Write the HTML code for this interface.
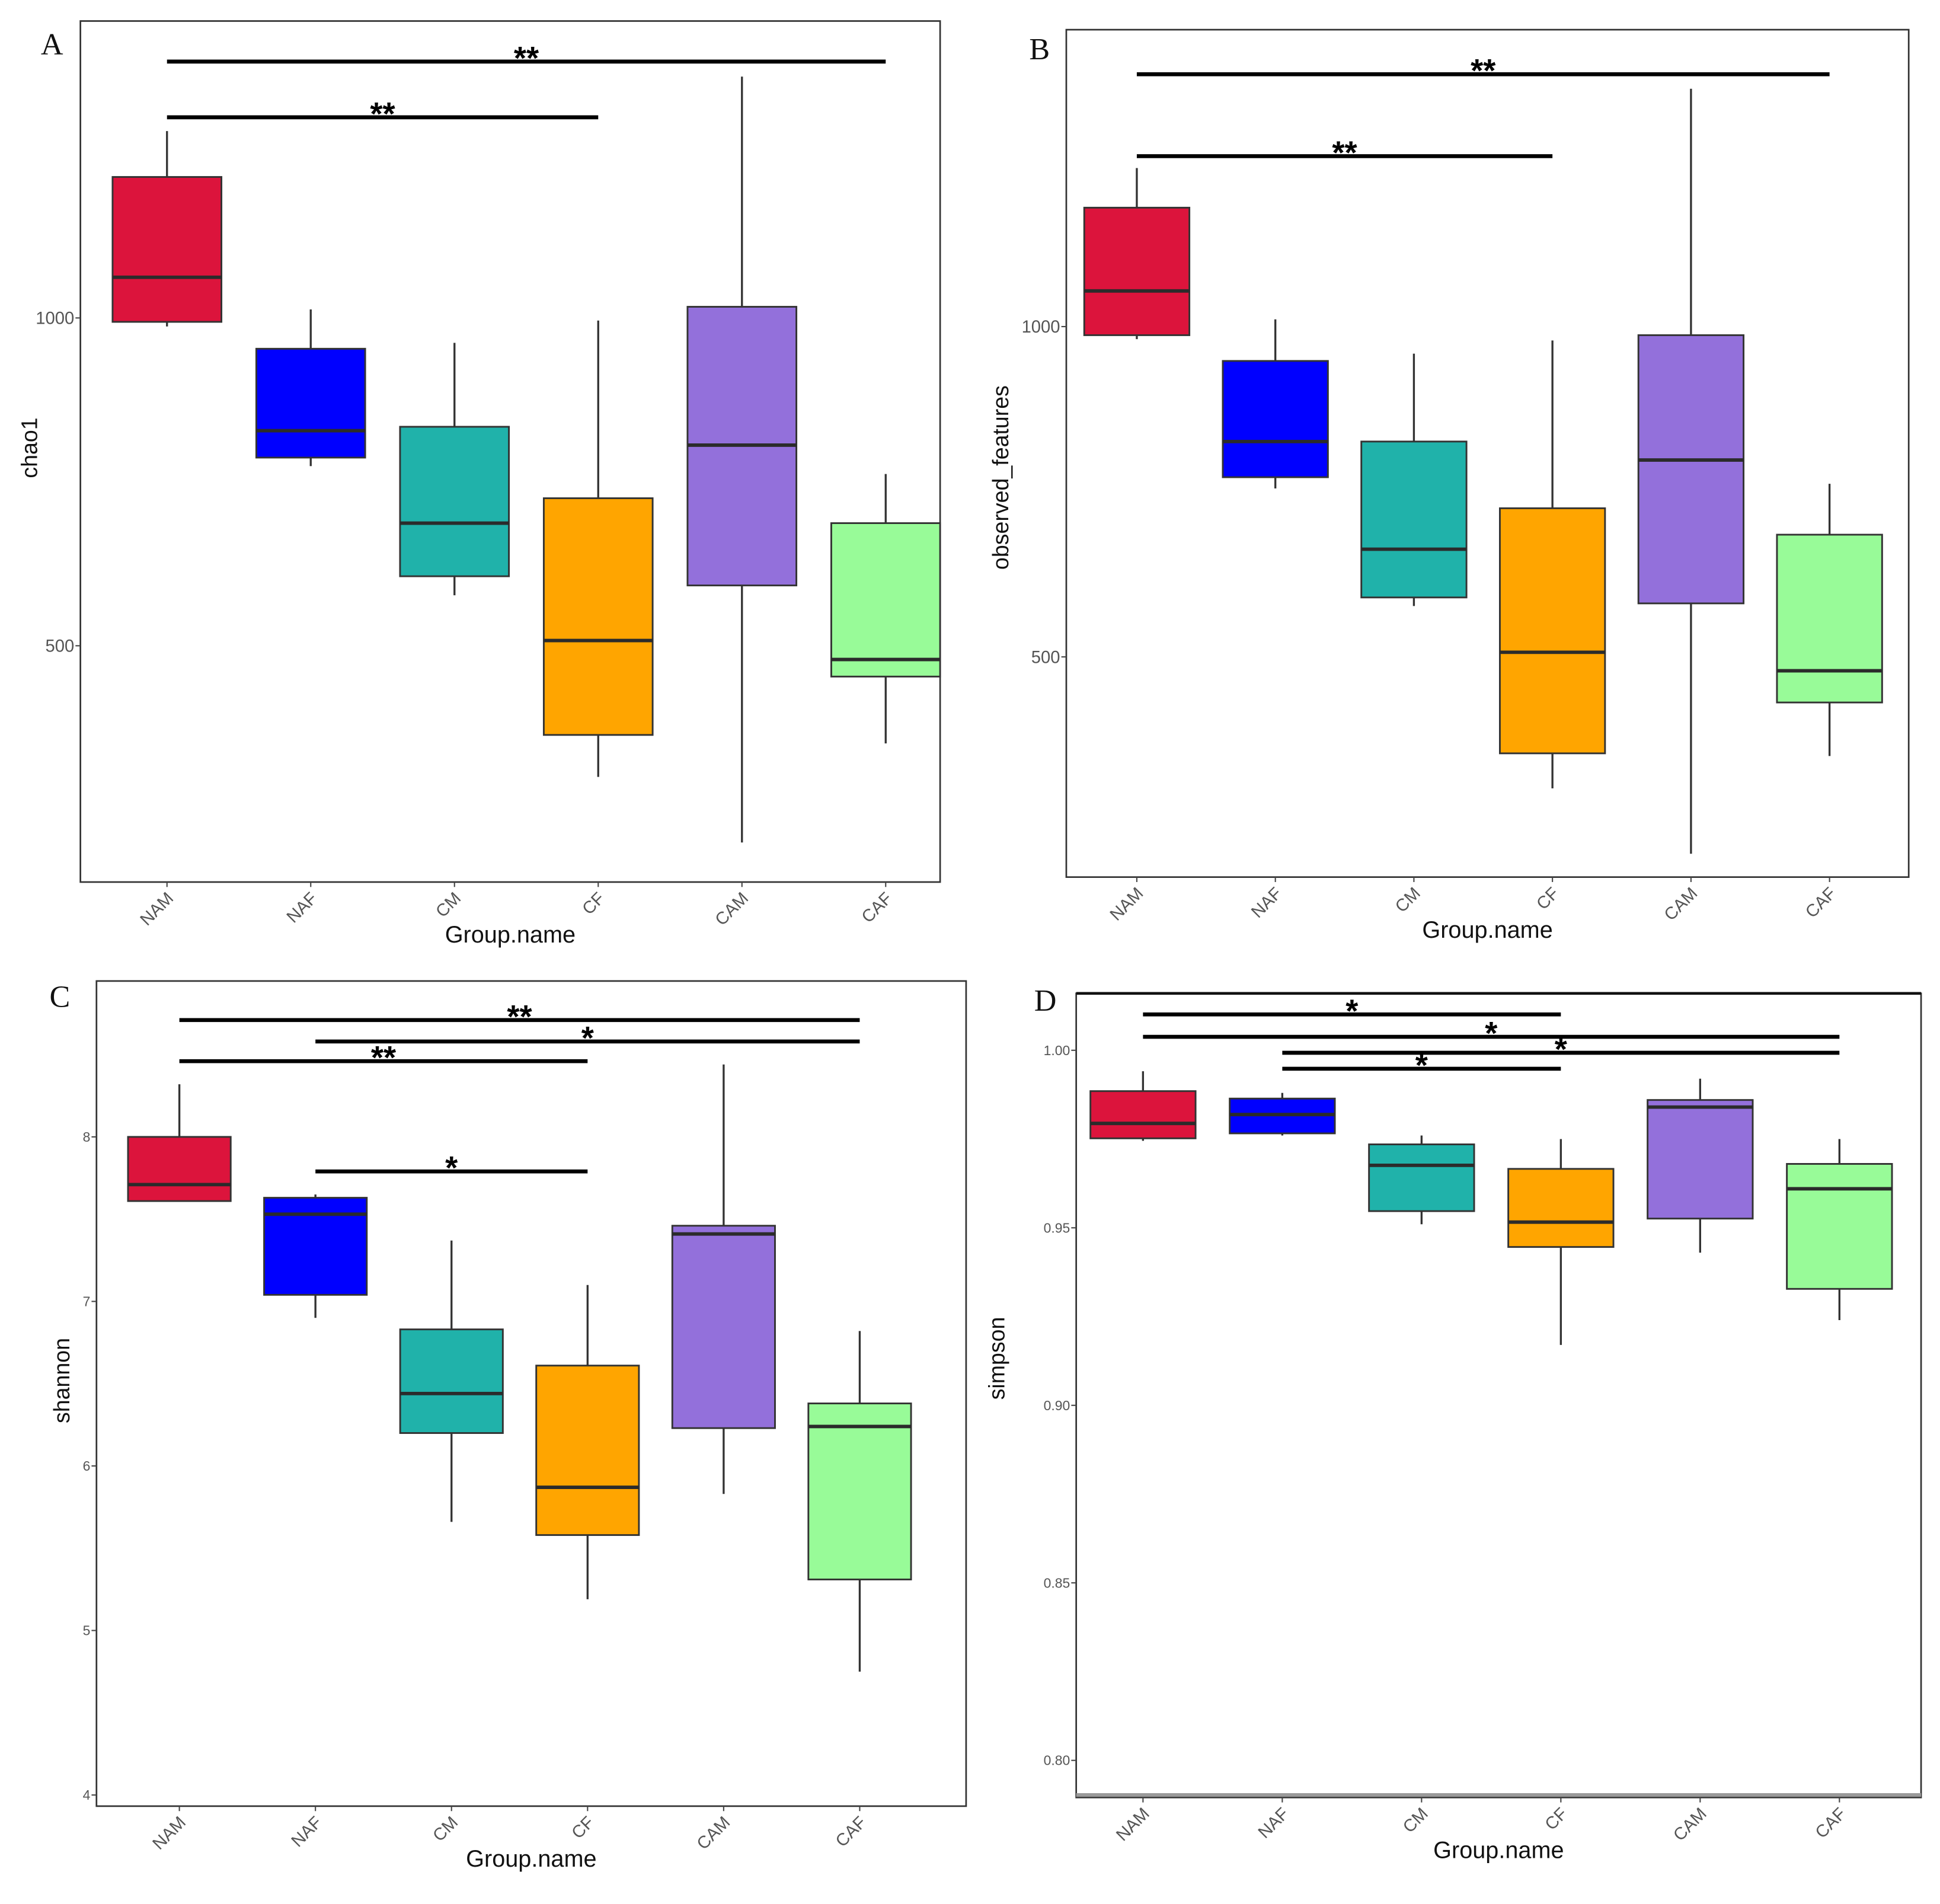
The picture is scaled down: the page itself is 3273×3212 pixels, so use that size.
<!DOCTYPE html>
<html><head><meta charset="utf-8">
<style>
html,body{margin:0;padding:0;background:#fff;}
svg{display:block;}
</style></head>
<body>
<svg id="fig" xmlns="http://www.w3.org/2000/svg" width="3273" height="3212" viewBox="0 0 1568.3 1539.1" preserveAspectRatio="none" font-family="'Liberation Sans', sans-serif"></svg>
<script>
const categories = ['NAM','NAF','CM','CF','CAM','CAF'];
const boxColors = ['#DC143C','#0000FF','#20B2AA','#FFA500','#9370DB','#98FB98'];

// Panel A: chao1
const chaoMin = [987, 774, 577, 300, 200, 351];
const chaoQ1  = [994, 787, 606, 364, 592, 453];
const chaoMed = [1062, 828, 687, 508, 806, 479];
const chaoQ3  = [1215, 953, 834, 725, 1017, 687];
const chaoMax = [1285, 1013, 962, 996, 1368, 762];
const chaoTicks = [500, 1000];
const chaoTickLabels = ['500', '1000'];
const chaoSigFrom = [0, 0];
const chaoSigTo = [5, 3];
const chaoSigLabel = ['**', '**'];
const chaoSigY = [1391, 1306];

// Panel B: observed_features
const obsMin = [981, 755, 577, 301, 202, 350];
const obsQ1  = [987, 772, 590, 354, 581, 431];
const obsMed = [1054, 826, 663, 507, 798, 479];
const obsQ3  = [1180, 948, 826, 725, 987, 685];
const obsMax = [1240, 1011, 959, 979, 1360, 762];
const obsTicks = [500, 1000];
const obsTickLabels = ['500', '1000'];
const obsSigFrom = [0, 0];
const obsSigTo = [5, 3];
const obsSigLabel = ['**', '**'];
const obsSigY = [1382, 1258];

// Panel C: shannon
const shanMin = [7.61, 6.90, 5.66, 5.19, 5.83, 4.75];
const shanQ1  = [7.61, 7.04, 6.20, 5.58, 6.23, 5.31];
const shanMed = [7.71, 7.53, 6.44, 5.87, 7.41, 6.24];
const shanQ3  = [8.00, 7.63, 6.83, 6.61, 7.46, 6.38];
const shanMax = [8.32, 7.65, 7.37, 7.10, 8.44, 6.82];
const shanTicks = [4, 5, 6, 7, 8];
const shanTickLabels = ['4', '5', '6', '7', '8'];
const shanSigFrom = [0, 1, 0, 1];
const shanSigTo = [5, 5, 3, 3];
const shanSigLabel = ['**', '*', '**', '*'];
const shanSigY = [8.71, 8.58, 8.46, 7.79];

// Panel D: simpson
const simpMin = [0.9745, 0.976, 0.951, 0.917, 0.943, 0.924];
const simpQ1  = [0.9752, 0.9766, 0.9547, 0.9446, 0.9526, 0.9328];
const simpMed = [0.9794, 0.9819, 0.9676, 0.9516, 0.984, 0.961];
const simpQ3  = [0.9885, 0.9864, 0.9735, 0.9666, 0.986, 0.968];
const simpMax = [0.9941, 0.988, 0.976, 0.975, 0.992, 0.975];
const simpTicks = [0.80, 0.85, 0.90, 0.95, 1.00];
const simpTickLabels = ['0.80', '0.85', '0.90', '0.95', '1.00'];
const simpSigFrom = [0, 0, 1, 1];
const simpSigTo = [3, 5, 5, 3];
const simpSigLabel = ['*', '*', '*', '*'];
const simpSigY = [1.0101, 1.0038, 0.9993, 0.9948];

const NS = 'http://www.w3.org/2000/svg';
const svg = document.getElementById('fig');
function mk(tag, attrs, parent) {
  const e = document.createElementNS(NS, tag);
  for (const k in attrs) e.setAttribute(k, attrs[k]);
  (parent || svg).appendChild(e);
  return e;
}

function drawPanel(cfg) {
  const g = mk('g', {});
  
  
  const y = v => cfg.y0px + (v - cfg.y0v) * (cfg.y1px - cfg.y0px) / (cfg.y1v - cfg.y0v);
  const x = i => cfg.x0 + i * cfg.step;

  const fr = mk('rect', {x: cfg.L, y: cfg.T, width: cfg.R - cfg.L, height: cfg.B - cfg.T, fill: 'none', stroke: '#333', 'stroke-width': 1.3}, g);
  
  
  if (cfg.grayBottom) {
    const gb = mk('line', {x1: cfg.L, x2: cfg.R, y1: cfg.B - 2, y2: cfg.B - 2, stroke: '#999', 'stroke-width': 3}, g);
    
    
    mk('line', {x1: cfg.L, x2: cfg.R, y1: cfg.T, y2: cfg.T, stroke: '#111', 'stroke-width': 2.2}, g);
  }

  cfg.ticks.forEach((t, i) => {
    const yy = y(t);
    mk('line', {x1: cfg.L - 4, x2: cfg.L, y1: yy, y2: yy, stroke: '#444', 'stroke-width': 1}, g);
    const tl = mk('text', {x: cfg.L - 5, y: yy + cfg.tickFs * 0.35, 'text-anchor': 'end', 'font-size': cfg.tickFs, fill: '#555'}, g);
    tl.textContent = cfg.tickLabels[i];
    
    
  });

  categories.forEach((c, i) => {
    const cx = x(i), hw = cfg.bw / 2;
    const bg = mk('g', {}, g);
    
    
    mk('line', {x1: cx, x2: cx, y1: y(cfg.max[i]), y2: y(cfg.q3[i]), stroke: '#333', 'stroke-width': 1.6}, bg);
    mk('line', {x1: cx, x2: cx, y1: y(cfg.q1[i]), y2: y(cfg.min[i]), stroke: '#333', 'stroke-width': 1.6}, bg);
    mk('rect', {x: cx - hw, y: y(cfg.q3[i]), width: cfg.bw, height: Math.max(0.5, y(cfg.q1[i]) - y(cfg.q3[i])), fill: boxColors[i], stroke: '#333', 'stroke-width': 1.4}, bg);
    mk('line', {x1: cx - hw, x2: cx + hw, y1: y(cfg.med[i]), y2: y(cfg.med[i]), stroke: '#2b2b2b', 'stroke-width': 2.8}, bg);
    mk('line', {x1: cx, x2: cx, y1: cfg.B, y2: cfg.B + 4, stroke: '#444', 'stroke-width': 1}, g);
    const xl = mk('text', {x: cx + 6, y: cfg.B + 14, 'text-anchor': 'end', 'font-size': 14, fill: '#555', transform: `rotate(-45 ${cx + 6} ${cfg.B + 14})`}, g);
    xl.textContent = c;
    
    
  });

  cfg.sigY.forEach((sv, k) => {
    const yy = y(sv);
    const x1 = x(cfg.sigFrom[k]), x2 = x(cfg.sigTo[k]);
    const sb = mk('line', {x1: x1, x2: x2, y1: yy, y2: yy, stroke: '#000', 'stroke-width': 3.2}, g);
    
    
    const st = mk('text', {x: (x1 + x2) / 2, y: yy + 6, 'text-anchor': 'middle', 'font-size': 26, 'font-weight': 'bold', fill: '#000'}, g);
    st.textContent = cfg.sigLabel[k];
    
    
  });

  const xt = mk('text', {x: (cfg.L + cfg.R) / 2, y: cfg.B + 49, 'text-anchor': 'middle', 'font-size': 19, fill: '#111'}, g);
  xt.textContent = 'Group.name';
  
  
  const yt = mk('text', {x: cfg.ylx, y: cfg.yly, 'text-anchor': 'middle', 'font-size': 18, fill: '#111', transform: `rotate(-90 ${cfg.ylx} ${cfg.yly})`}, g);
  yt.textContent = cfg.ylabel;
  
  
  const pl = mk('text', {x: cfg.lx, y: cfg.ly, 'font-size': 25, 'font-family': "'Liberation Serif', serif", fill: '#111'}, g);
  pl.textContent = cfg.letter;
  
  
}

drawPanel({letter: 'A', L: 65, R: 760, T: 17, B: 713, x0: 135, step: 116.2, bw: 88,
  y0v: 500, y0px: 522, y1v: 1000, y1px: 257, ticks: chaoTicks, tickLabels: chaoTickLabels, tickFs: 14,
  min: chaoMin, q1: chaoQ1, med: chaoMed, q3: chaoQ3, max: chaoMax,
  sigFrom: chaoSigFrom, sigTo: chaoSigTo, sigLabel: chaoSigLabel, sigY: chaoSigY,
  ylabel: 'chao1', ylx: 30, yly: 362, lx: 33, ly: 44});

drawPanel({letter: 'B', L: 862, R: 1543, T: 24, B: 709, x0: 919, step: 112, bw: 85,
  y0v: 500, y0px: 531, y1v: 1000, y1px: 264, ticks: obsTicks, tickLabels: obsTickLabels, tickFs: 14,
  min: obsMin, q1: obsQ1, med: obsMed, q3: obsQ3, max: obsMax,
  sigFrom: obsSigFrom, sigTo: obsSigTo, sigLabel: obsSigLabel, sigY: obsSigY,
  ylabel: 'observed_features', ylx: 815, yly: 386, lx: 832, ly: 48});

drawPanel({letter: 'C', L: 78, R: 781, T: 793, B: 1460, x0: 145, step: 110, bw: 83,
  y0v: 4, y0px: 1451, y1v: 8, y1px: 919, ticks: shanTicks, tickLabels: shanTickLabels, tickFs: 11,
  min: shanMin, q1: shanQ1, med: shanMed, q3: shanQ3, max: shanMax,
  sigFrom: shanSigFrom, sigTo: shanSigTo, sigLabel: shanSigLabel, sigY: shanSigY,
  ylabel: 'shannon', ylx: 56, yly: 1116, lx: 40, ly: 814});

drawPanel({letter: 'D', L: 870, R: 1553, T: 803, B: 1453, x0: 924, step: 112.6, bw: 85,
  y0v: 0.80, y0px: 1423, y1v: 1.00, y1px: 849, ticks: simpTicks, tickLabels: simpTickLabels, tickFs: 11,
  min: simpMin, q1: simpQ1, med: simpMed, q3: simpQ3, max: simpMax,
  sigFrom: simpSigFrom, sigTo: simpSigTo, sigLabel: simpSigLabel, sigY: simpSigY,
  ylabel: 'simpson', ylx: 812, yly: 1098, lx: 836, ly: 817, grayBottom: true});
</script>
</body></html>
